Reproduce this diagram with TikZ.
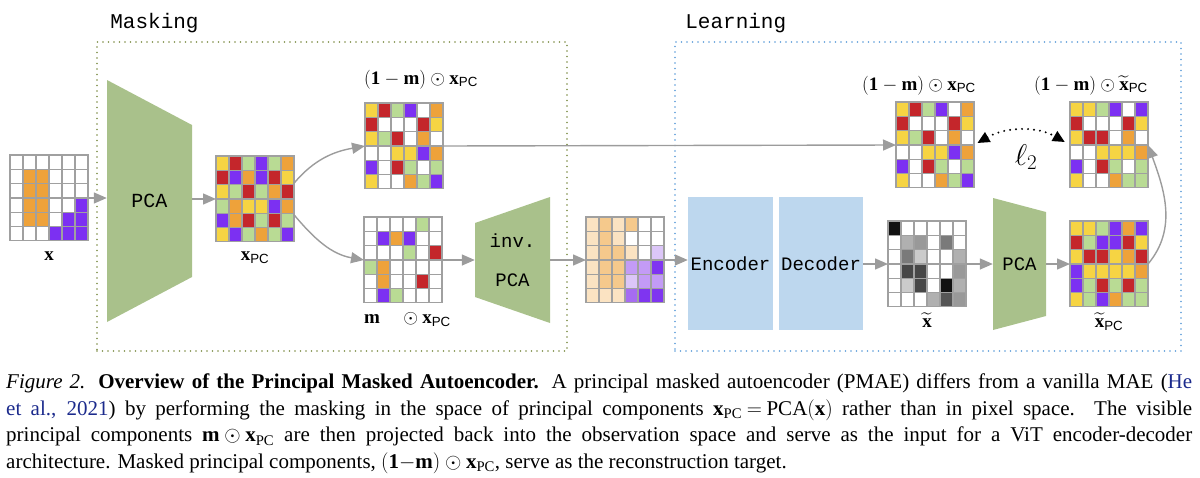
\RequirePackage{fix-cm}
\documentclass[tikz,border=0pt]{standalone}
\usepackage{amsmath,amssymb}
\usepackage{fontspec}
\setmainfont{Liberation Serif}
\setsansfont{Liberation Sans}
\setmonofont{Liberation Mono}
\usetikzlibrary{positioning,calc,arrows.meta}

\definecolor{cY}{HTML}{F6D443}
\definecolor{cR}{HTML}{C4262B}
\definecolor{cG}{HTML}{B9DB94}
\definecolor{cP}{HTML}{7C30F2}
\definecolor{cO}{HTML}{EEA23A}
\definecolor{cW}{HTML}{FFFFFF}
\definecolor{rA}{HTML}{FBE3C2}
\definecolor{rB}{HTML}{F5C98C}
\definecolor{rC}{HTML}{DCC6F8}
\definecolor{rD}{HTML}{C39BF6}
\definecolor{rE}{HTML}{A66CF2}
\definecolor{rF}{HTML}{7F35F0}
\definecolor{gK}{HTML}{111111}
\definecolor{g1}{HTML}{474747}
\definecolor{g2}{HTML}{555555}
\definecolor{g3}{HTML}{7A7A7A}
\definecolor{g4}{HTML}{999999}
\definecolor{g5}{HTML}{B0B0B0}
\definecolor{g6}{HTML}{CBCBCB}
\definecolor{gridgray}{HTML}{A0A0A0}
\definecolor{arrowgray}{HTML}{9C9C9C}
\definecolor{trapgreen}{HTML}{A9C18B}
\definecolor{aeblue}{HTML}{BDD7EE}
\definecolor{maskline}{HTML}{7D8C45}
\definecolor{learnline}{HTML}{5B9BD8}
\definecolor{citeblue}{HTML}{1B2A8C}

\tikzset{
  gridbox/.style={minimum width=78pt, minimum height=86pt, inner sep=0pt, outer sep=0pt},
  flow/.style={draw=arrowgray, line width=1.4pt, -{Triangle[length=13pt,width=11pt]}},
  lab/.style={font=\fontsize{19}{22}\selectfont, inner sep=0pt},
  monolab/.style={font=\ttfamily\fontsize{20}{24}\selectfont, inner sep=0pt},
  frametitle/.style={font=\ttfamily\fontsize{21}{24}\selectfont, inner sep=0pt},
  maskframe/.style={draw=maskline, line width=1.7pt, line cap=round, dash pattern=on 0pt off 5.5pt, minimum height=309pt},
  learnframe/.style={draw=learnline, line width=1.7pt, line cap=round, dash pattern=on 0pt off 5.5pt, minimum height=309pt},
  aebox/.style={fill=aeblue, minimum height=133pt, inner sep=0pt, font=\ttfamily\fontsize{19}{22}\selectfont},
  trapR/.style={inner sep=0pt, path picture={\fill[trapgreen] (path picture bounding box.north west)
      -- ($(path picture bounding box.north east)+(0,-#1)$) -- ($(path picture bounding box.south east)+(0,#1)$)
      -- (path picture bounding box.south west) -- cycle;}},
  trapL/.style={inner sep=0pt, path picture={\fill[trapgreen] ($(path picture bounding box.north west)+(0,-#1)$)
      -- (path picture bounding box.north east) -- (path picture bounding box.south east)
      -- ($(path picture bounding box.south west)+(0,#1)$) -- cycle;}},
  captext/.style={anchor=north west, inner sep=0pt, text width=1186pt, align=justify,
      font=\fontsize{21}{26.7}\selectfont}
}

\newcommand{\cellgrid}[2]{%
  \foreach \rowlist [count=\rowi] in {#2}
    \foreach \colr [count=\coli] in \rowlist
      \filldraw[fill=\colr, draw=gridgray, line width=1.3pt]
        ($(#1.north west)+(\coli*13-13,14.3-\rowi*14.3)$) rectangle ++(13,-14.3);
}

\begin{document}
\begin{tikzpicture}[x=1pt,y=1pt]
\useasboundingbox (0,0) rectangle (1200,-477);

\node[maskframe, minimum width=470pt] (maskbox) at (332,-196.5) {};
\node[learnframe, minimum width=506pt] (learnbox) at (928,-196.5) {};
\node[frametitle, anchor=base west] (masktitle) at ($(maskbox.north west)+(14,13)$) {Masking};
\node[frametitle, anchor=base west] (learntitle) at ($(learnbox.north west)+(11,13)$) {Learning};

\node[gridbox] (xin) at (49,-198) {};
\cellgrid{xin}{{cW,cW,cW,cW,cW,cW},{cW,cO,cO,cW,cW,cW},{cW,cO,cO,cW,cW,cW},
  {cW,cO,cO,cW,cW,cP},{cW,cO,cO,cW,cP,cP},{cW,cW,cW,cP,cP,cP}}
\node[lab, below=11pt of xin] (xlab) {$\mathbf{x}$};

\node[trapR=45, minimum width=85pt, minimum height=242pt, monolab] (pca) at (149.5,-201) {PCA};

\node[gridbox] (xpc) at (255,-199) {};
\cellgrid{xpc}{{cY,cR,cG,cP,cG,cO},{cR,cP,cO,cP,cR,cY},{cY,cG,cR,cG,cO,cR},
  {cG,cO,cY,cY,cP,cO},{cP,cO,cR,cG,cR,cG},{cY,cP,cG,cO,cG,cP}}
\node[lab, below=10pt of xpc] (xpclab) {$\mathbf{x}_{\textsf{PC}}$};

\node[gridbox] (maskout) at (404,-146) {};
\cellgrid{maskout}{{cY,cR,cG,cP,cW,cO},{cR,cW,cW,cW,cR,cY},{cY,cG,cR,cW,cO,cW},
  {cW,cW,cY,cY,cP,cO},{cP,cW,cR,cG,cW,cG},{cY,cW,cW,cO,cG,cP}}
\node[lab, above right=14pt and -1pt of maskout.north west] (maskoutlab)
  {$\mathbf{(1}-\mathbf{m)}\odot\mathbf{x}_{\textsf{PC}}$};

\node[gridbox] (maskin) at (403,-260) {};
\cellgrid{maskin}{{cW,cW,cW,cW,cG,cW},{cW,cP,cO,cP,cW,cW},{cW,cW,cW,cG,cW,cR},
  {cG,cO,cW,cW,cW,cW},{cW,cO,cW,cW,cR,cW},{cW,cP,cG,cW,cW,cW}}
\node[lab, below right=9pt and 0pt of maskin.south west] (maskinlab)
  {$\mathbf{m}\quad\odot\mathbf{x}_{\textsf{PC}}$};

\node[trapL=26, minimum width=75pt, minimum height=126pt, monolab, align=center,
  font=\ttfamily\fontsize{19}{39}\selectfont] (invpca) at (512.5,-260) {inv.\\PCA};

\node[gridbox] (recon) at (625,-260) {};
\cellgrid{recon}{{rA,rB,rA,rB,cW,cW},{rA,rB,rA,cW,cW,cW},{rA,rB,rB,rA,cW,rC},
  {rA,rB,rB,rD,rD,rF},{rA,rB,rB,rC,rD,rD},{rA,rA,rA,rE,rF,rF}}

\node[aebox, minimum width=85pt] (encoder) at (730.5,-263.5) {Encoder};
\node[aebox, minimum width=84pt] (decoder) at (821,-263.5) {Decoder};

\node[gridbox] (xtilde) at (927,-264) {};
\cellgrid{xtilde}{{gK,cW,cW,cW,cW,cW},{cW,g5,g4,cW,g3,cW},{cW,g3,g6,cW,cW,g5},
  {cW,g1,g1,cW,cW,g4},{cW,g6,g1,cW,gK,g5},{cW,cW,cW,g5,g2,g4}}
\node[lab, below=6pt of xtilde] (xtildelab) {$\widetilde{\mathbf{x}}$};

\node[trapR=14, minimum width=53pt, minimum height=132pt, monolab,
  font=\ttfamily\fontsize{19}{22}\selectfont] (pcab) at (1019.5,-264) {PCA};

\node[gridbox] (xtpc) at (1109,-264) {};
\cellgrid{xtpc}{{cY,cY,cG,cP,cO,cP},{cR,cG,cP,cP,cR,cY},{cY,cR,cR,cY,cO,cR},
  {cP,cY,cY,cY,cY,cO},{cP,cG,cR,cG,cR,cG},{cY,cG,cP,cO,cG,cG}}
\node[lab, below=6pt of xtpc] (xtpclab) {$\widetilde{\mathbf{x}}_{\textsf{PC}}$};

\node[gridbox] (target) at (935,-145) {};
\cellgrid{target}{{cY,cR,cG,cP,cW,cO},{cR,cW,cW,cW,cR,cY},{cY,cG,cR,cW,cO,cW},
  {cW,cW,cY,cY,cP,cO},{cP,cW,cR,cG,cW,cG},{cY,cW,cW,cO,cG,cP}}
\node[lab, above left=7pt and -2pt of target.north east] (targetlab)
  {$\mathbf{(1}-\mathbf{m)}\odot\mathbf{x}_{\textsf{PC}}$};

\node[gridbox] (predmask) at (1109,-145) {};
\cellgrid{predmask}{{cY,cY,cG,cP,cW,cP},{cR,cW,cW,cW,cR,cY},{cY,cR,cR,cW,cO,cW},
  {cW,cW,cY,cY,cY,cO},{cP,cW,cR,cG,cW,cG},{cY,cW,cW,cO,cG,cG}}
\node[lab, above left=7pt and 0pt of predmask.north east] (predmasklab)
  {$\mathbf{(1}-\mathbf{m)}\odot\widetilde{\mathbf{x}}_{\textsf{PC}}$};

\node[inner sep=0pt, font=\fontsize{30}{32}\selectfont] (losslab) at (1026,-157) {$\ell_2$};

\draw[flow] (xin.east) -- (xin.east -| pca.west);
\draw[flow] (xpc.west -| pca.east) -- (xpc.west);
\draw[flow] (xpc.22) to[out=50,in=190] (maskout.west);
\draw[flow] (xpc.-22) to[out=-50,in=170] (maskin.west);
\draw[flow] (maskout.east) -- (target.west);
\draw[flow] (maskin.east) -- (invpca.west);
\draw[flow] (invpca.east) -- (recon.west);
\draw[flow] (recon.east) -- (recon.east -| encoder.west);
\draw[flow] (xtilde.west -| decoder.east) -- (xtilde.west);
\draw[flow] (xtilde.east) -- (pcab.west);
\draw[flow] (pcab.east) -- (xtpc.west);
\draw[flow] (xtpc.east) to[out=50,in=-70] (predmask.east);
\draw[line width=2.2pt, line cap=round, dash pattern=on 0pt off 6pt,
  {Triangle[length=12pt,width=11pt]}-{Triangle[length=12pt,width=11pt]},
  shorten <=4pt, shorten >=6pt] (target.east) to[out=30,in=150] (predmask.west);

\node[captext] (caption) at (6,-373.5) {\textit{Figure 2.} \textbf{Overview of the Principal Masked Autoencoder.} A principal masked autoencoder (PMAE) differs from a vanilla MAE (\textcolor{citeblue}{He}\linebreak
\textcolor{citeblue}{et al., 2021}) by performing the masking in the space of principal components $\mathbf{x}_{\text{PC}}\mskip4mu{=}\mskip4mu\text{PCA}(\mathbf{x})$ rather than in pixel space. The visible\linebreak
principal components $\mathbf{m}\mskip4mu{\odot}\mskip4mu\mathbf{x}_{\text{PC}}$ are then projected back into the observation space and serve as the input for a ViT encoder-decoder\linebreak
architecture. Masked principal components, $\mathbf{(1}{-}\mathbf{m)}\mskip4mu{\odot}\mskip4mu\mathbf{x}_{\text{PC}}$, serve as the reconstruction target.};
\end{tikzpicture}
\end{document}
